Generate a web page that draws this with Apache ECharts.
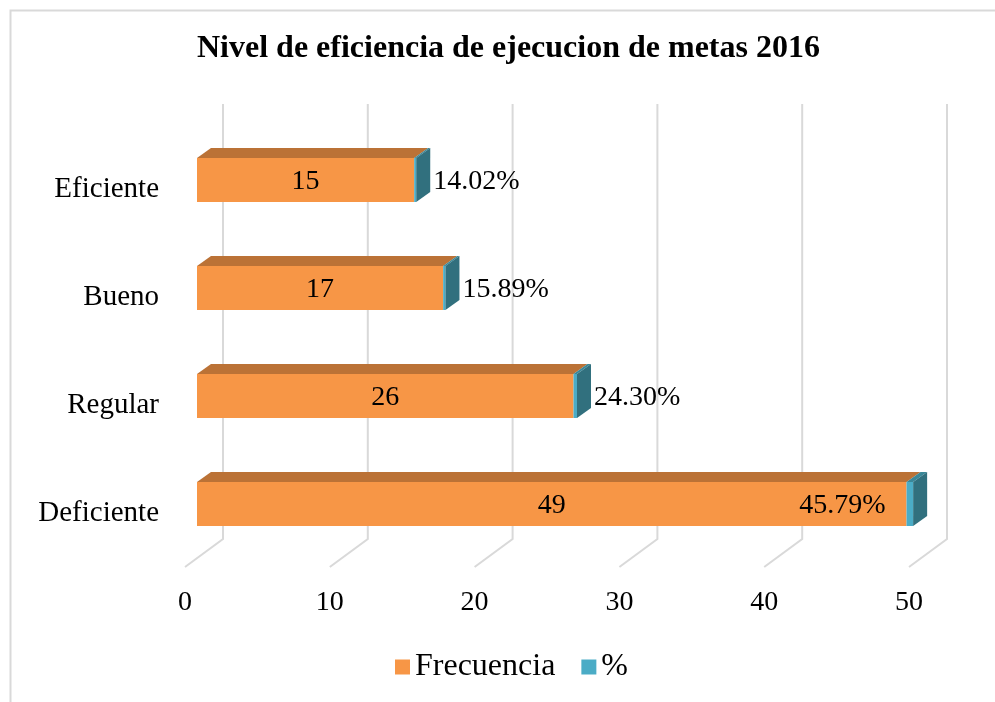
<!DOCTYPE html>
<html>
<head>
<meta charset="utf-8">
<script src="https://cdn.jsdelivr.net/npm/echarts@6/dist/echarts.min.js"></script>
<style>
html,body{margin:0;padding:0;background:#fff;}
#main{width:995px;height:702px;}
</style>
</head>
<body>
<div id="main"></div>
<script type="text/javascript">
// datos (de abajo hacia arriba)
var categories = ['Deficiente', 'Regular', 'Bueno', 'Eficiente'];
var frecuencia = [49, 26, 17, 15];
var porcentaje = [0.4579, 0.2430, 0.1589, 0.1402];
var xTicks = [0, 10, 20, 30, 40, 50];

var FONT = '"Liberation Serif", "Times New Roman", serif';
// profundidad 3D (px)
var depthX = 14, depthY = -10;
var barShiftX = 12, barShiftY = -9, barH = 44;
var wallX = 38, wallY = -28, wallTop = 104;

var myChart = echarts.init(document.getElementById('main'));

function frontBox(api, from, to, cat){
    var p0 = api.coord([from, cat]);
    var p1 = api.coord([to, cat]);
    var x0 = p0[0] + barShiftX, x1 = p1[0] + barShiftX;
    var yc = p0[1] + barShiftY;
    return {x0: x0, x1: x1, y0: yc - barH / 2, y1: yc + barH / 2, yc: yc};
}

function renderGrid(params, api){
    var cs = params.coordSys;
    var x = api.coord([api.value(0), categories[0]])[0];
    var bottom = cs.y + cs.height;
    return {
        type: 'polyline',
        shape: {points: [[x + wallX, wallTop], [x + wallX, bottom + wallY], [x, bottom]]},
        style: {stroke: '#d9d9d9', lineWidth: 2, fill: null},
        silent: true
    };
}

function renderFrec(params, api){
    var cat = api.value(1);
    var b = frontBox(api, 0, api.value(0), cat);
    return {
        type: 'group',
        children: [
            {type: 'polygon', shape: {points: [[b.x0, b.y0], [b.x0 + depthX, b.y0 + depthY], [b.x1 + depthX, b.y0 + depthY], [b.x1, b.y0]]},
                style: {fill: '#bb7236'}},
            {type: 'rect', shape: {x: b.x0, y: b.y0, width: b.x1 - b.x0, height: barH}, style: {fill: '#f79646'}},
            {type: 'text', x: (b.x0 + b.x1) / 2, y: b.yc + 2,
                style: {text: String(api.value(0)), fontSize: 28, fontFamily: FONT, fill: '#000', align: 'center', verticalAlign: 'middle'}}
        ]
    };
}

function renderPct(params, api){
    var cat = api.value(1);
    var f = api.value(0), p = api.value(2);
    var b = frontBox(api, f, f + p, cat);
    var label = (p * 100).toFixed(2) + '%';
    var inside = f + p > 45;
    return {
        type: 'group',
        children: [
            {type: 'polygon', shape: {points: [[b.x0, b.y0], [b.x0 + depthX, b.y0 + depthY], [b.x1 + depthX, b.y0 + depthY], [b.x1, b.y0]]},
                style: {fill: '#3a8798'}},
            {type: 'rect', shape: {x: b.x0, y: b.y0, width: b.x1 - b.x0, height: barH}, style: {fill: '#4bacc6'}},
            {type: 'polygon', shape: {points: [[b.x1, b.y0], [b.x1 + depthX, b.y0 + depthY], [b.x1 + depthX, b.y1 + depthY], [b.x1, b.y1]]},
                style: {fill: '#31707e'}},
            {type: 'text', x: inside ? b.x0 - 21 : b.x1 + depthX + 3, y: b.yc + 2,
                style: {text: label, fontSize: 28, fontFamily: FONT, fill: '#000', align: inside ? 'right' : 'left', verticalAlign: 'middle'}}
        ]
    };
}

var gridData = [], frecData = [], pctData = [];
for(var i = 0; i < xTicks.length; i++){
    gridData.push([xTicks[i], categories[0]]);
}
for(var j = 0; j < categories.length; j++){
    frecData.push([frecuencia[j], categories[j]]);
    pctData.push([frecuencia[j], categories[j], porcentaje[j]]);
}

var option = {
    backgroundColor: '#fff',
    animation: false,
    textStyle: {fontFamily: FONT},
    title: {
        text: 'Nivel de eficiencia de ejecucion de metas 2016',
        left: 192,
        top: 28,
        textStyle: {fontFamily: FONT, fontSize: 32, fontWeight: 'bold', color: '#000'}
    },
    legend: {
        top: 646,
        left: 390,
        icon: 'rect',
        itemWidth: 15,
        itemHeight: 15,
        itemGap: 26,
        textStyle: {fontFamily: FONT, fontSize: 32, color: '#000'},
        data: ['Frecuencia', '%']
    },
    graphic: [{
        type: 'rect', left: 8, top: 8, silent: true,
        shape: {width: 1000, height: 720},
        style: {fill: null, stroke: '#d9d9d9', lineWidth: 2}
    }],
    grid: {left: 185, top: 135, width: 724, height: 432},
    xAxis: {
        type: 'value', min: 0, max: 50, interval: 10,
        axisLine: {show: false}, axisTick: {show: false}, splitLine: {show: false},
        axisLabel: {fontFamily: FONT, fontSize: 28, color: '#000', margin: 22}
    },
    yAxis: {
        type: 'category', data: categories,
        axisLine: {show: false}, axisTick: {show: false},
        axisLabel: {fontFamily: FONT, fontSize: 29, color: '#000', margin: 26}
    },
    series: [
        {name: 'grid3d', type: 'custom', renderItem: renderGrid, data: gridData, encode: {x: 0, y: 1}, z: 1, silent: true},
        {name: 'Frecuencia', type: 'custom', renderItem: renderFrec, data: frecData, encode: {x: 0, y: 1}, z: 2,
            itemStyle: {color: '#f79646'}},
        {name: '%', type: 'custom', renderItem: renderPct, data: pctData, encode: {x: 0, y: 1}, z: 3,
            itemStyle: {color: '#4bacc6'}}
    ]
};
myChart.setOption(option);
</script>
</body>
</html>
